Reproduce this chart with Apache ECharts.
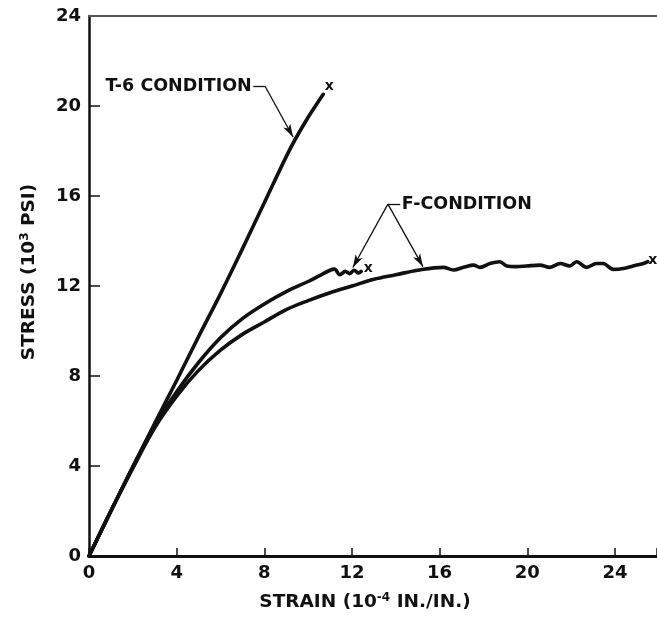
<!DOCTYPE html>
<html>
<head>
<meta charset="utf-8">
<script src="https://cdn.jsdelivr.net/npm/echarts@6/dist/echarts.min.js"></script>
<style>
  html, body { margin: 0; padding: 0; background: #fff; }
  #chart { width: 657px; height: 619px; }
</style>
</head>
<body>
<div id="chart"></div>
<script>
// Stress-strain curves: strain in 10^-4 in./in., stress in 10^3 psi
const t6Strain = [0, 1, 2, 3, 4, 5, 6, 7, 8, 9, 9.4, 10, 10.4, 10.69];
const t6Stress = [0, 2.0, 3.97, 5.9, 7.8, 9.75, 11.65, 13.65, 15.7, 17.75, 18.5, 19.5, 20.1, 20.52];

const fUpperStrain = [0, 1, 2, 3, 4, 5, 6, 7, 8, 9, 10, 10.5, 11.0, 11.2, 11.45, 11.7, 11.9, 12.1, 12.3, 12.42];
const fUpperStress = [0, 2.0, 3.95, 5.8, 7.3, 8.6, 9.7, 10.55, 11.2, 11.75, 12.2, 12.45, 12.7, 12.75, 12.5, 12.65, 12.55, 12.7, 12.58, 12.65];

const fLowerStrain = [0, 1, 2, 3, 4, 5, 6, 7, 8, 9, 10, 11, 12, 13, 14, 15, 16.17, 16.63, 17.09, 17.55, 17.84, 18.3, 18.75, 19.06, 19.5, 19.97, 20.57, 21.03, 21.5, 21.94, 22.25, 22.7, 23.16, 23.46, 23.92, 24.38, 24.83, 25.3, 25.5];
const fLowerStress = [0, 2.0, 3.9, 5.7, 7.1, 8.25, 9.15, 9.85, 10.4, 10.95, 11.35, 11.7, 12.0, 12.3, 12.5, 12.7, 12.83, 12.71, 12.83, 12.93, 12.83, 13.0, 13.08, 12.89, 12.86, 12.89, 12.93, 12.83, 13.0, 12.89, 13.08, 12.83, 13.0, 13.0, 12.74, 12.78, 12.89, 13.0, 13.08];

const xTicks = [0, 4, 8, 12, 16, 20, 24];
const yTicks = [0, 4, 8, 12, 16, 20, 24];

// Callout positions (data coordinates)
const t6Label = { text: 'T-6 CONDITION', at: [7.45, 20.89] };
const t6Leader = [[7.5, 20.89], [8.03, 20.89], [9.31, 18.62]];
const fLabel = { text: 'F-CONDITION', at: [14.25, 15.62] };
const fLeaderStart = [13.64, 15.64];
const fLeaderBar = [14.2, 15.64];
const fArrowTips = [[12.04, 12.82], [15.24, 12.86]];

const FONT = 'DejaVu Sans';
const INK = '#111';

function pairs(xs, ys) { return xs.map((x, i) => [x, ys[i]]); }
function last(xs, ys) { return [xs[xs.length - 1], ys[ys.length - 1]]; }

// small "x" written just past the end of a curve (specimen failure)
function endCross(pt, offset) {
  return {
    symbol: 'circle', symbolSize: 1,
    itemStyle: { color: 'rgba(0,0,0,0)' },
    label: {
      show: true, formatter: 'x', color: INK,
      fontFamily: FONT, fontWeight: 'bold', fontSize: 14,
      position: 'inside', offset: offset
    },
    data: [{ coord: pt }]
  };
}

const calloutText = { fontFamily: FONT, fontWeight: 'bold', fontSize: 17.5, color: INK, opacity: 1 };
const curveStyle = { color: INK, width: 3.6, cap: 'round', join: 'round' };
const leaderStyle = { color: INK, width: 1.3, type: 'solid' };
const supStyle = { fontFamily: FONT, fontWeight: 'bold', fontSize: 12, color: INK, verticalAlign: 'bottom', padding: [0, 0, 8, 0] };

const chart = echarts.init(document.getElementById('chart'), null, { renderer: 'canvas' });

chart.setOption({
  backgroundColor: '#fff',
  animation: false,
  grid: { left: 89, right: 0, top: 16, bottom: 63, containLabel: false },
  xAxis: [{
    type: 'value', min: 0, max: 25.92, interval: 4,
    name: 'STRAIN (10{sup|-4} IN./IN.)',
    nameLocation: 'middle', nameGap: 36,
    nameTextStyle: { fontFamily: FONT, fontWeight: 'bold', fontSize: 18.5, color: INK, padding: [0, 16, 0, 0], rich: { sup: supStyle } },
    axisLine: { show: true, onZero: false, lineStyle: { color: INK, width: 3 } },
    axisTick: { show: true, inside: true, length: 8, lineStyle: { color: INK, width: 1.5 } },
    axisLabel: {
      margin: 8, fontFamily: FONT, fontWeight: 'bold', fontSize: 18, color: INK,
      customValues: xTicks
    },
    splitLine: { show: false }
  }, {
    type: 'value', min: 0, max: 25.92, position: 'top',
    axisLine: { show: true, onZero: false, lineStyle: { color: '#555', width: 2 } },
    axisTick: { show: false }, axisLabel: { show: false }, splitLine: { show: false }
  }],
  yAxis: {
    type: 'value', min: 0, max: 24, interval: 4,
    name: 'STRESS (10{sup|3} PSI)',
    nameLocation: 'middle', nameGap: 50, nameRotate: 90,
    nameTextStyle: { fontFamily: FONT, fontWeight: 'bold', fontSize: 18.5, color: INK, padding: [0, 0, 0, 28], rich: { sup: supStyle } },
    axisLine: { show: true, onZero: false, lineStyle: { color: INK, width: 2.5 } },
    axisTick: { show: true, inside: true, length: 11, lineStyle: { color: INK, width: 1.5 },
      customValues: yTicks.slice(0, -1) },
    axisLabel: {
      margin: 8, fontFamily: FONT, fontWeight: 'bold', fontSize: 18, color: INK,
      customValues: yTicks
    },
    splitLine: { show: false }
  },
  series: [{
    name: 'T-6 CONDITION', type: 'line', smooth: 0.4, symbol: 'none',
    lineStyle: curveStyle, data: pairs(t6Strain, t6Stress), z: 3,
    markPoint: endCross(last(t6Strain, t6Stress), [6, -8]),
    markLine: {
      silent: true, symbol: ['none', 'none'], lineStyle: leaderStyle, label: { show: false },
      data: [
        [{ coord: t6Leader[0] }, { coord: t6Leader[1] }],
        [{ coord: t6Leader[1], symbol: 'none' }, { coord: t6Leader[2], symbol: 'arrow', symbolSize: [6, 13] }]
      ]
    }
  }, {
    name: 'F-CONDITION', type: 'line', smooth: 0.35, symbol: 'none',
    lineStyle: curveStyle, data: pairs(fUpperStrain, fUpperStress), z: 3,
    markPoint: endCross(last(fUpperStrain, fUpperStress), [7, -3]),
    markLine: {
      silent: true, symbol: ['none', 'none'], lineStyle: leaderStyle, label: { show: false },
      data: [
        [{ coord: fLeaderStart }, { coord: fLeaderBar }],
        [{ coord: fLeaderStart, symbol: 'none' }, { coord: fArrowTips[0], symbol: 'arrow', symbolSize: [6, 13] }],
        [{ coord: fLeaderStart, symbol: 'none' }, { coord: fArrowTips[1], symbol: 'arrow', symbolSize: [6, 13] }]
      ]
    }
  }, {
    name: 'F-CONDITION (2)', type: 'line', smooth: 0.35, symbol: 'none',
    lineStyle: curveStyle, data: pairs(fLowerStrain, fLowerStress), z: 3,
    markPoint: endCross(last(fLowerStrain, fLowerStress), [5, -1])
  }, {
    name: 'labels', type: 'scatter', symbol: 'circle', symbolSize: 1, silent: true,
    itemStyle: { color: 'rgba(0,0,0,0)', opacity: 1 },
    data: [
      { value: t6Label.at, label: Object.assign({ show: true, formatter: t6Label.text, position: 'left', distance: 0 }, calloutText) },
      { value: fLabel.at, label: Object.assign({ show: true, formatter: fLabel.text, position: 'right', distance: 0 }, calloutText) }
    ]
  }]
});
</script>
</body>
</html>
